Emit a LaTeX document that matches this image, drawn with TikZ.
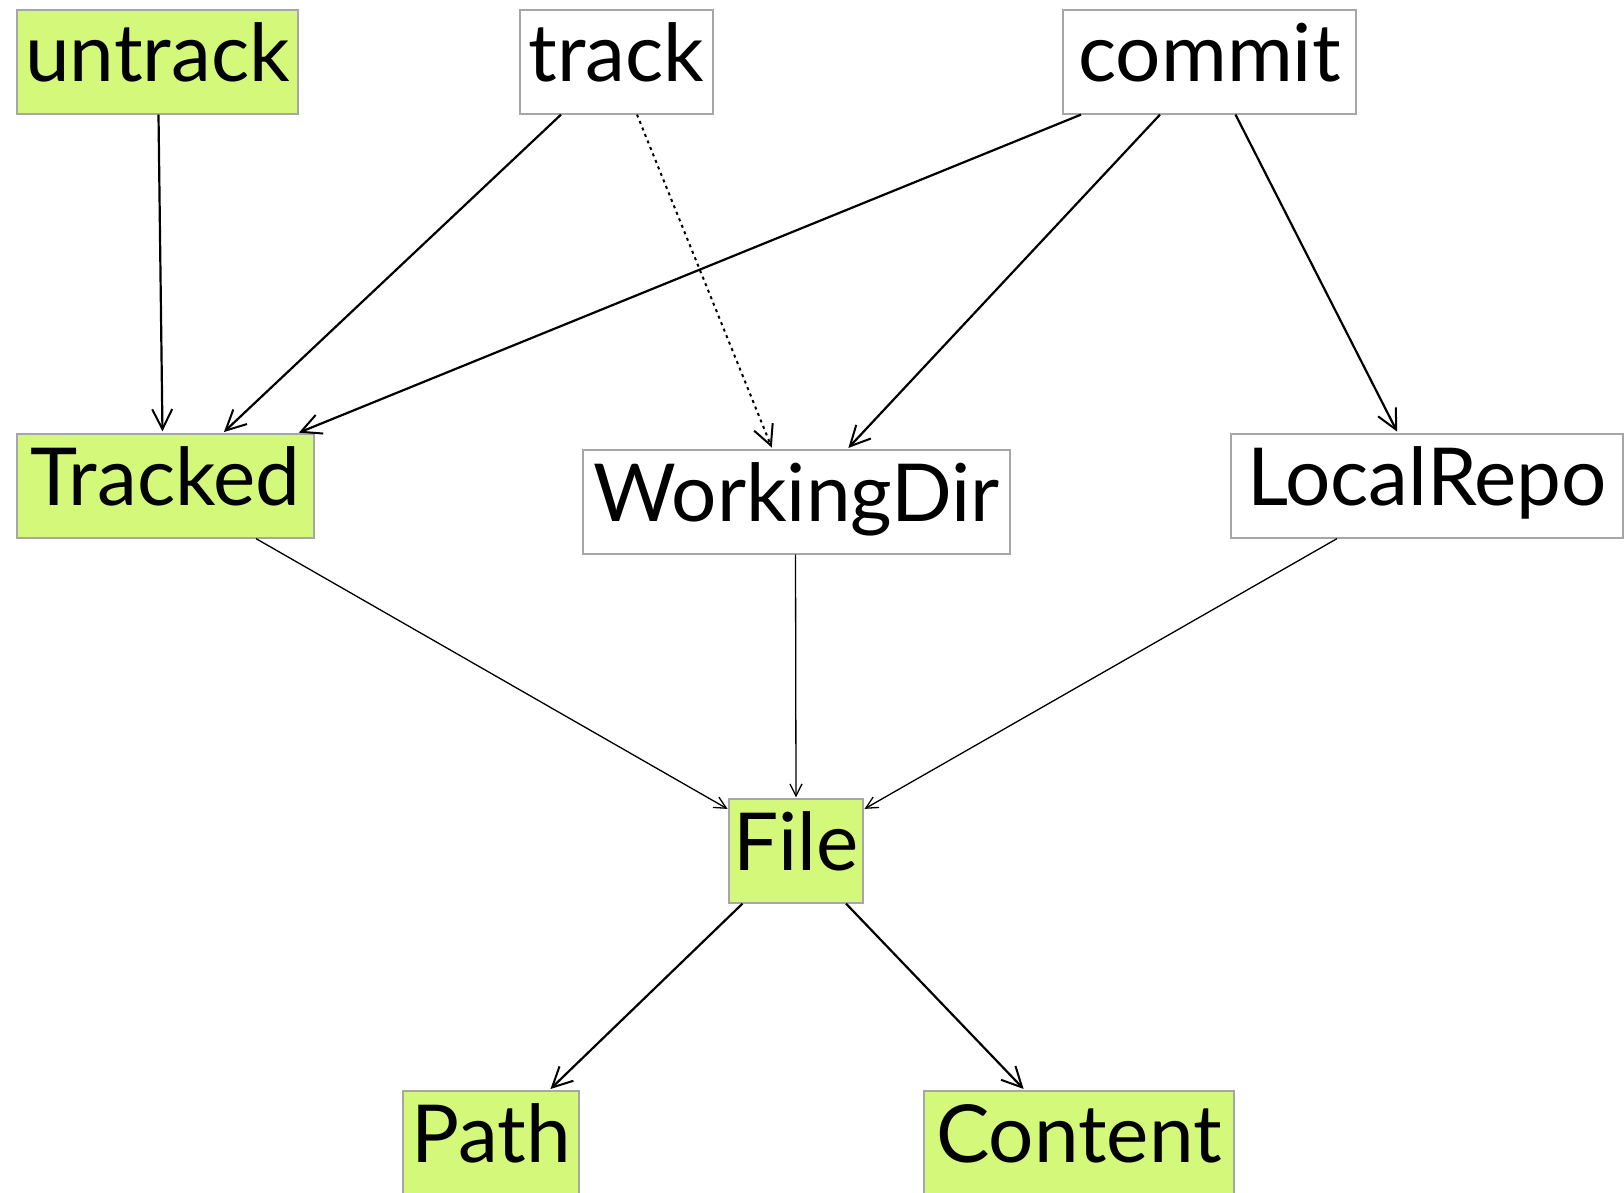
\documentclass[tikz,border=0pt]{standalone}
\usepackage{fontspec}
\setmainfont{Lato}
\usetikzlibrary{arrows.meta}
\definecolor{lime}{HTML}{D4F87A}
\definecolor{boxline}{HTML}{A6A6A6}
\tikzset{
  box/.style={draw=boxline, line width=1.2pt, rectangle, inner sep=0pt,
    minimum height=104pt, text height=71pt, text depth=33pt,
    font=\fontsize{80}{80}\selectfont},
  gbox/.style={box, fill=lime},
  wbox/.style={box, fill=white},
  bigarrow/.style={line width=2.2pt, -{Straight Barb[length=20pt,width=20pt,line width=2pt]}, shorten >=2pt},
  thinarrow/.style={line width=1.3pt, -{Straight Barb[length=12pt,width=12pt,line width=1.3pt]}, shorten >=1pt},
  dotarrow/.style={line width=2pt, dash pattern=on 3pt off 4pt, -{Straight Barb[length=20pt,width=20pt,line width=2pt]}, shorten >=2pt},
}
\begin{document}
\begin{tikzpicture}[x=1pt,y=-1pt]
\useasboundingbox (0,0) rectangle (1624,1192);
\node[gbox, minimum width=281pt] (untrack) at (157.5,62) {untrack};
\node[wbox, minimum width=193pt] (track) at (616.5,62) {track};
\node[wbox, minimum width=293pt] (commit) at (1209.5,62) {commit};
\node[gbox, minimum width=297pt] (Tracked) at (165.5,486) {Tracked};
\node[wbox, minimum width=427pt] (WorkingDir) at (796.5,502) {WorkingDir};
\node[wbox, minimum width=392pt] (LocalRepo) at (1427,486) {LocalRepo};
\node[gbox, minimum width=134pt] (File) at (796,851) {File};
\node[gbox, minimum width=176pt] (Path) at (491,1143) {Path};
\node[gbox, minimum width=310pt] (Content) at (1079,1143) {Content};

\draw[bigarrow] ([xshift=1pt]untrack.south) -- ([xshift=-3pt]Tracked.north);
\draw[bigarrow] ([xshift=-55.5pt]track.south) -- ([xshift=57pt]Tracked.north);
\draw[dotarrow] ([xshift=20.5pt]track.south) -- ([xshift=-24pt]WorkingDir.north);
\draw[bigarrow] ([xshift=-128.5pt]commit.south) -- ([xshift=131.5pt]Tracked.north);
\draw[bigarrow] ([xshift=-49.5pt]commit.south) -- ([xshift=50.5pt]WorkingDir.north);
\draw[bigarrow] ([xshift=26pt]commit.south) -- ([xshift=-29pt]LocalRepo.north);
\draw[thinarrow] ([xshift=90.5pt]Tracked.south) -- ([yshift=-11pt]File.north west);
\draw[thinarrow] ([xshift=-1pt]WorkingDir.south) -- (File.north);
\draw[thinarrow] ([xshift=-90pt]LocalRepo.south) -- ([yshift=-11pt]File.north east);
\draw[bigarrow] ([xshift=-53.5pt]File.south) -- ([xshift=58pt]Path.north);
\draw[bigarrow] ([xshift=50pt]File.south) -- ([xshift=-54pt]Content.north);
\end{tikzpicture}
\end{document}
